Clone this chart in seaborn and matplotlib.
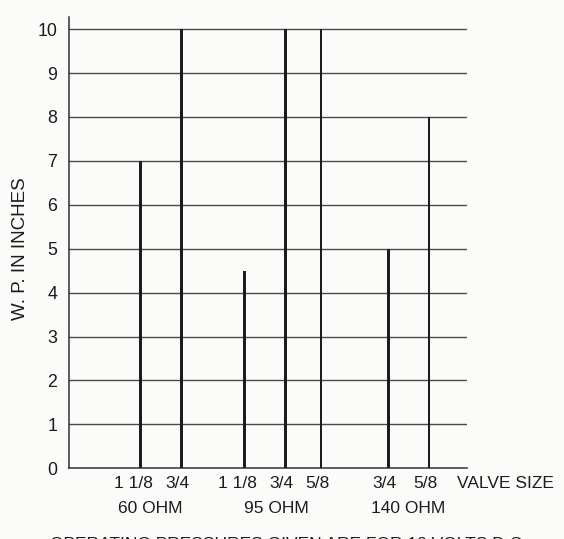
import matplotlib
matplotlib.use("Agg")
import matplotlib.pyplot as plt
import matplotlib.transforms as mtransforms
import seaborn as sns
import pandas as pd

# ---- data ----
valve_sizes = ["1 1/8", "3/4", "1 1/8", "3/4", "5/8", "3/4", "5/8"]
resistance = ["60 OHM", "60 OHM", "95 OHM", "95 OHM", "95 OHM", "140 OHM", "140 OHM"]
pressure_in = [7, 10, 4.5, 10, 10, 5, 8]
group_names = ["60 OHM", "95 OHM", "140 OHM"]
y_ticks = [0, 1, 2, 3, 4, 5, 6, 7, 8, 9, 10]

# ---- layout (horizontal placement of the lines on the chart) ----
x_pos = [140.7, 181.7, 244.5, 285.7, 321.0, 388.7, 429.0]
group_x = [150, 276, 408]

df = pd.DataFrame({"x": x_pos, "size": valve_sizes, "ohm": resistance, "wp": pressure_in})

sns.set_theme(style="white")
plt.rcParams["font.family"] = ["Liberation Sans", "DejaVu Sans"]
ink = "#1c1c1c"
bg = "#fbfbfa"

fig = plt.figure(figsize=(5.64, 5.39), dpi=100, facecolor=bg)
ax = fig.add_axes([69 / 564, (539 - 468.3) / 539, (467 - 69) / 564, (468.3 - 17.3) / 539])
ax.set_facecolor(bg)

sns.barplot(data=df, x="x", y="wp", native_scale=True, width=2.6 / 35.3,
            color=ink, saturation=1, linewidth=0, ax=ax, zorder=3)

ax.set_xlim(69, 467)
ax.set_ylim(0, 10.27)
ax.set_yticks(y_ticks)
ax.set_yticklabels([str(t) for t in y_ticks], fontsize=12.8, color=ink)
ax.tick_params(axis="y", length=0, pad=8.5)
ax.set_xticks([])
ax.set_xlabel("")
ax.set_ylabel("")
for t in y_ticks[1:]:
    ax.axhline(t, color="#4a4a4a", linewidth=1.0, zorder=1)

for s in ["top", "right"]:
    ax.spines[s].set_visible(False)
for s in ["left", "bottom"]:
    ax.spines[s].set_color("#333333")
    ax.spines[s].set_linewidth(1.1)

trans = mtransforms.blended_transform_factory(ax.transData, fig.transFigure)
for xp, lab in zip(x_pos, valve_sizes):
    off = -7 if lab == "1 1/8" else -4
    ax.annotate(lab, xy=(xp, (539 - 484) / 539), xycoords=trans,
                xytext=(off * 0.72, 0), textcoords="offset points",
                ha="center", va="center", fontsize=12.5, color=ink, annotation_clip=False)
fig.text(457 / 564, (539 - 484) / 539, "VALVE SIZE", ha="left", va="center",
         fontsize=12.5, color=ink)
for gx, g in zip(group_x, group_names):
    ax.text(gx, (539 - 508.5) / 539, g, transform=trans, ha="center", va="center",
            fontsize=12.5, color=ink, clip_on=False)

fig.text(21 / 564, (539 - 249) / 539, "W. P. IN INCHES", rotation=90,
         ha="center", va="center", fontsize=13.5, color=ink)
fig.text(50 / 564, (539 - 549) / 539, "OPERATING PRESSURES GIVEN ARE FOR 12 VOLTS D.C.",
         ha="left", va="baseline", fontsize=12.5, color=ink)

fig.savefig("out.png", dpi=100, facecolor=bg)
